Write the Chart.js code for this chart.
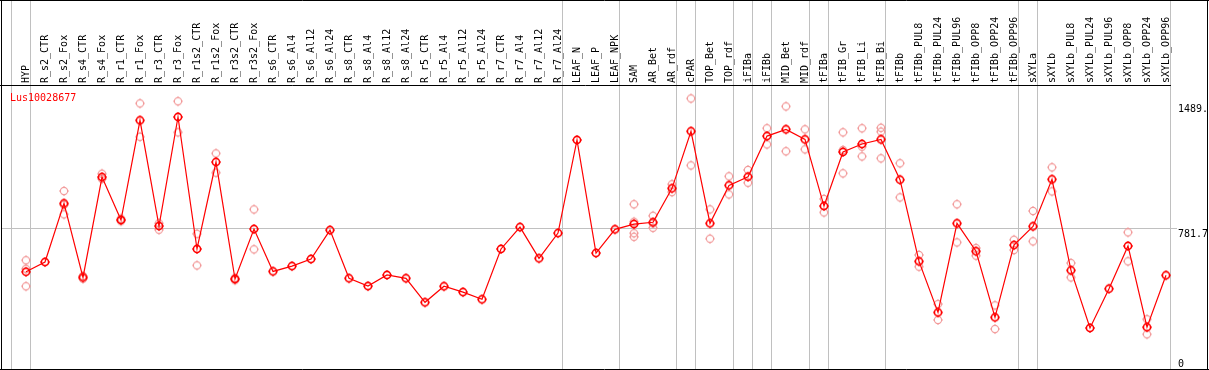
<!DOCTYPE html>
<html>
<head>
<meta charset="utf-8">
<script src="https://cdn.jsdelivr.net/npm/chart.js@4.4.1/dist/chart.umd.min.js"></script>
<style>
html,body{margin:0;padding:0;background:#fff;}
#wrap{width:1209px;height:370px;position:relative;}
</style>
</head>
<body>
<div id="wrap"><canvas id="c" width="1209" height="370"></canvas></div>
<script>
const categories = ["HYP","R_s2_CTR","R_s2_Fox","R_s4_CTR","R_s4_Fox","R_r1_CTR","R_r1_Fox","R_r3_CTR","R_r3_Fox","R_r1s2_CTR","R_r1s2_Fox","R_r3s2_CTR","R_r3s2_Fox","R_s6_CTR","R_s6_Al4","R_s6_Al12","R_s6_Al24","R_s8_CTR","R_s8_Al4","R_s8_Al12","R_s8_Al24","R_r5_CTR","R_r5_Al4","R_r5_Al12","R_r5_Al24","R_r7_CTR","R_r7_Al4","R_r7_Al12","R_r7_Al24","LEAF_N","LEAF_P","LEAF_NPK","SAM","AR_Bet","AR_rdf","cPAR","TOP_Bet","TOP_rdf","iFIBa","iFIBb","MID_Bet","MID_rdf","tFIBa","tFIB_Gr","tFIB_Li","tFIB_Bi","tFIBb","tFIBb_PUL8","tFIBb_PUL24","tFIBb_PUL96","tFIBb_OPP8","tFIBb_OPP24","tFIBb_OPP96","sXYLa","sXYLb","sXYLb_PUL8","sXYLb_PUL24","sXYLb_PUL96","sXYLb_OPP8","sXYLb_OPP24","sXYLb_OPP96"];

const meanValues = [534,589,921,502,1070,827,1391,793,1410,663,1155,493,776,536,566,606,770,497,453,516,497,361,452,419,378,663,787,610,753,1280,640,774,804,814,1006,1329,808,1023,1072,1302,1340,1283,906,1212,1257,1283,1055,593,304,808,650,276,685,791,1057,542,216,438,680,220,514];

const rep1 = [599,null,991,510,1089,835,1487,808,1499,749,1204,500,887,null,null,null,null,null,null,null,null,null,null,null,null,null,null,null,null,null,null,null,916,851,1029,1515,887,1074,1110,1346,1470,1340,946,1323,1346,1349,1148,629,351,916,668,344,715,878,1125,583,null,null,757,265,null];
const rep2 = [551,null,859,495,1060,820,1298,772,1323,570,1095,486,661,null,null,null,null,null,null,null,null,null,null,null,null,null,null,null,null,null,null,null,817,783,985,1136,721,972,1038,1255,1216,1227,870,1091,1187,1327,955,563,261,700,625,210,657,706,989,502,null,null,593,180,null];
const rep3 = [452,null,913,null,null,null,null,null,null,null,null,null,null,null,null,null,null,null,null,null,null,null,null,null,null,null,null,null,null,null,null,null,752,808,null,null,null,null,null,null,null,null,null,1223,1242,1176,null,null,null,null,null,null,null,null,null,null,null,null,null,null,null];
const rep4 = [null,null,null,null,null,null,null,null,null,null,null,null,null,null,null,null,null,null,null,null,null,null,null,null,null,null,null,null,null,null,null,null,732,null,null,null,null,null,null,null,null,null,null,null,null,null,null,null,null,null,null,null,null,null,null,null,null,null,null,null,null];

const yTickValues = [1489, 781.7, 0];
const yTickLabels = ["1489.", "781.7", "0"];
const gridValue = 781.7;
const groupEnds = [-1,0,28,31,34,35,37,38,39,41,42,45,52,53,60];
const geneName = "Lus10028677";

function makeMarker(color, lw){
  const c = document.createElement('canvas');
  c.width = 12; c.height = 12;
  const g = c.getContext('2d');
  g.strokeStyle = color; g.fillStyle = color; g.lineWidth = lw;
  g.beginPath(); g.arc(6, 6, 3.6, 0, Math.PI*2); g.stroke();
  g.fillRect(5.5, 1, 1, 1.2); g.fillRect(5.5, 9.8, 1, 1.2);
  g.fillRect(1, 5.5, 1.2, 1); g.fillRect(9.8, 5.5, 1.2, 1);
  return c;
}
const mainMarker = makeMarker('#ff0000', 1.6);
const repMarker = makeMarker('#f29a9a', 1.1);

const MONO = '"DejaVu Sans Mono", "Liberation Mono", monospace';

const decor = {
  id: 'decor',
  beforeDatasetsDraw(chart){
    const ctx = chart.ctx, xs = chart.scales.x, ys = chart.scales.y;
    ctx.save();
    ctx.lineWidth = 1;
    ctx.strokeStyle = '#c0c0c0';
    groupEnds.forEach(i => {
      const x = Math.floor(xs.getPixelForValue(i) + 4) + 0.5;
      ctx.beginPath(); ctx.moveTo(x, 0); ctx.lineTo(x, 370); ctx.stroke();
    });
    const gy = Math.round(ys.getPixelForValue(gridValue)) + 0.5;
    ctx.beginPath(); ctx.moveTo(1, gy); ctx.lineTo(1177, gy); ctx.stroke();
    ctx.strokeStyle = '#000';
    ctx.beginPath(); ctx.moveTo(0, 85.5); ctx.lineTo(1171, 85.5); ctx.stroke();
    ctx.beginPath();
    ctx.moveTo(0, 0.5); ctx.lineTo(1209, 0.5);
    ctx.moveTo(0, 369.5); ctx.lineTo(1209, 369.5);
    ctx.moveTo(1.5, 0); ctx.lineTo(1.5, 370);
    ctx.moveTo(1207.5, 0); ctx.lineTo(1207.5, 370);
    ctx.stroke();
    ctx.font = '10px ' + MONO;
    ctx.textBaseline = 'top';
    ctx.textAlign = 'left';
    ctx.fillStyle = '#000';
    yTickValues.forEach((v, k) => {
      let y = Math.round(ys.getPixelForValue(v));
      y = Math.min(y, 358);
      ctx.fillText(yTickLabels[k], 1178, y + 1);
    });
    ctx.fillStyle = '#ff0000';
    ctx.textBaseline = 'middle';
    ctx.fillText(geneName, 10, 98);
    ctx.restore();
  }
};

function repSet(data){
  return {data, showLine:false, pointStyle: repMarker, pointRadius: 4, pointHoverRadius: 4,
    borderColor:'#f29a9a', backgroundColor:'transparent', clip:false};
}

new Chart(document.getElementById('c'), {
  type: 'line',
  data: {
    labels: categories,
    datasets: [
      {data: meanValues, borderColor:'#ff0000', borderWidth:1.2, backgroundColor:'transparent',
       pointStyle: mainMarker, pointRadius:4, pointHoverRadius:4, tension:0, clip:false},
      repSet(rep1), repSet(rep2), repSet(rep3), repSet(rep4)
    ]
  },
  options: {
    responsive:false,
    devicePixelRatio:1,
    animation:false,
    events:[],
    layout:{padding:{left:26, right:43, top:0, bottom:1}},
    plugins:{legend:{display:false}, tooltip:{enabled:false}},
    scales:{
      x:{
        type:'category', position:'top', offset:false,
        grid:{display:false, drawTicks:false}, border:{display:false},
        ticks:{autoSkip:false, maxRotation:90, minRotation:90, padding:2, labelOffset:12, color:'#000',
          font:{family:MONO, size:10}},
        afterFit(scale){ scale.height = 85; }
      },
      y:{display:false, min:7.4, max:1591.1}
    }
  },
  plugins:[decor]
});
</script>
</body>
</html>
